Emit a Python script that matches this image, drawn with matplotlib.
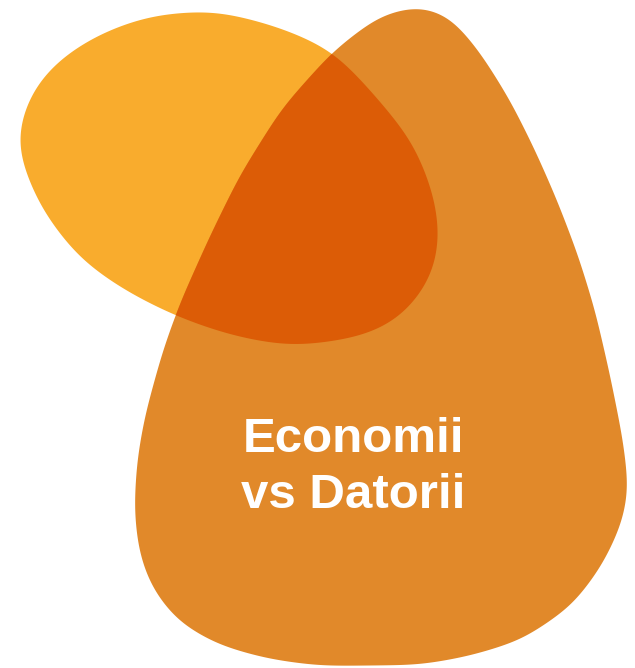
import matplotlib.pyplot as plt
import numpy as np
from matplotlib.path import Path
from matplotlib.patches import PathPatch

# outline points of the two blobs (pixel coords, y downward)
left_blob_x = [15, 22, 35, 61, 100, 150, 215, 280, 333, 373, 413, 435, 441, 432, 400, 363, 292, 232, 177, 125, 79, 40]
left_blob_y = [146, 113, 84, 57, 33, 15, 10, 27, 50, 93, 141, 196, 240, 280, 320, 337, 347, 336, 317, 291, 259, 208]

right_blob_x = [420, 450, 480, 510, 535, 557, 578, 595, 610, 623, 629, 622, 602, 572, 522, 470, 420, 320, 268, 218,
                178, 152, 139, 134, 137, 145, 163, 180, 210, 240, 282, 333, 380]
right_blob_y = [5, 16, 52, 100, 150, 200, 255, 310, 375, 440, 490, 524, 566, 606, 640, 656, 665, 666, 659, 645,
                622, 589, 554, 510, 460, 415, 350, 303, 236, 175, 108, 51, 15]

title_lines = ["Economii", "vs Datorii"]

col_left = "#F9AC2D"
col_right = "#E1892A"
col_overlap = "#DC5C06"


def closed_path(xs, ys, sigma, n=900):
    # resample the outline evenly along its length, then smooth it circularly
    pts = np.column_stack([xs, ys]).astype(float)
    ring = np.vstack([pts, pts[:1]])
    seg = np.hypot(*np.diff(ring, axis=0).T)
    s = np.concatenate([[0], np.cumsum(seg)])
    total = s[-1]
    t = np.linspace(0, total, n, endpoint=False)
    x = np.interp(t, s, ring[:, 0])
    y = np.interp(t, s, ring[:, 1])
    step = total / n
    k = np.arange(-n // 2, n // 2) * step
    w = np.exp(-0.5 * (k / sigma) ** 2)
    w = np.fft.ifftshift(w / w.sum())
    xs_s = np.real(np.fft.ifft(np.fft.fft(x) * np.fft.fft(w)))
    ys_s = np.real(np.fft.ifft(np.fft.fft(y) * np.fft.fft(w)))
    verts = np.column_stack([xs_s, ys_s])
    verts = np.vstack([verts, verts[:1]])
    codes = [Path.MOVETO] + [Path.LINETO] * (n - 1) + [Path.CLOSEPOLY]
    return Path(verts, codes)


fig = plt.figure(figsize=(6.35, 6.68), dpi=100)
ax = fig.add_axes([0, 0, 1, 1])
ax.set_xlim(0, 635)
ax.set_ylim(668, 0)
ax.axis("off")

left_path = closed_path(left_blob_x, left_blob_y, sigma=24)
right_path = closed_path(right_blob_x, right_blob_y, sigma=18)

ax.add_patch(PathPatch(left_path, facecolor=col_left, edgecolor="none"))
right_patch = PathPatch(right_path, facecolor=col_right, edgecolor="none")
ax.add_patch(right_patch)

# overlap: left blob clipped by the right blob
overlap = PathPatch(left_path, facecolor=col_overlap, edgecolor="none")
ax.add_patch(overlap)
overlap.set_clip_path(right_patch)

ax.text(353, 452, title_lines[0], color="white", fontsize=35.5, fontweight="bold",
        family="Liberation Sans", ha="center", va="baseline")
ax.text(353, 508, title_lines[1], color="white", fontsize=35.5, fontweight="bold",
        family="Liberation Sans", ha="center", va="baseline")

fig.savefig("out.png", dpi=100)
